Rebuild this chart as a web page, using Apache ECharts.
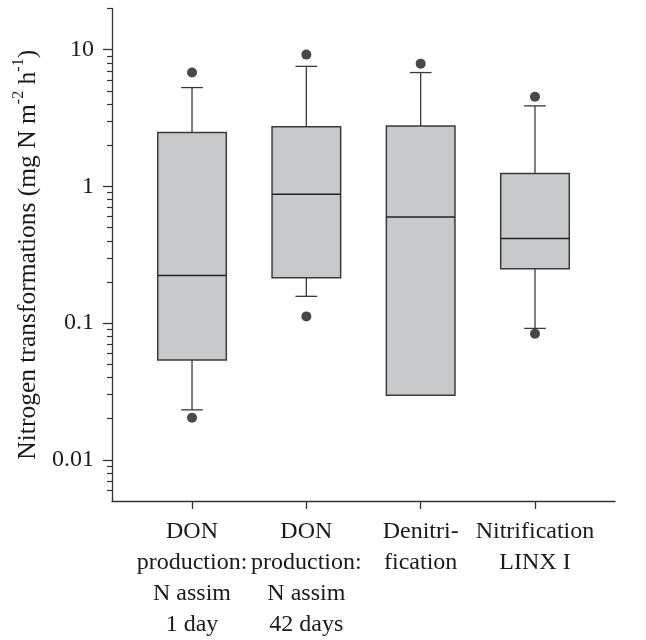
<!DOCTYPE html>
<html>
<head>
<meta charset="utf-8">
<script src="https://cdn.jsdelivr.net/npm/echarts@6/dist/echarts.min.js"></script>
<style>html,body{margin:0;padding:0;background:#fff}#c{width:646px;height:640px}</style>
</head>
<body>
<div id="c"></div>
<script>
const categories = ['DON\nproduction:\nN assim\n1 day', 'DON\nproduction:\nN assim\n42 days', 'Denitri-\nfication', 'Nitrification\nLINX I'];
const positions = [1, 2, 3, 4];
const whiskerLow = [0.0232, 0.157, null, 0.0915];
const q1 = [0.0537, 0.215, 0.0297, 0.25];
const median = [0.223, 0.877, 0.597, 0.415];
const q3 = [2.48, 2.73, 2.77, 1.24];
const whiskerHigh = [5.28, 7.55, 6.8, 3.88];
const outlierX = [1, 1, 2, 2, 3, 4, 4];
const outlierY = [6.8, 0.0203, 9.2, 0.112, 7.9, 4.52, 0.0837];
const majorTicks = [0.01, 0.1, 1, 10];
const minorTicks = [0.006, 0.007, 0.008, 0.009, 0.02, 0.03, 0.04, 0.05, 0.06, 0.07, 0.08, 0.09,
  0.2, 0.3, 0.4, 0.5, 0.6, 0.7, 0.8, 0.9, 2, 3, 4, 5, 6, 7, 8, 9, 20];

const FONT = "'Liberation Serif', 'Times New Roman', serif";
const boxData = positions.map((p, i) => [p, whiskerLow[i], q1[i], median[i], q3[i], whiskerHigh[i]]);
const outliers = outlierX.map((x, i) => [x, outlierY[i]]);

const BOX_HALF = 0.3, CAP_HALF = 0.095;
function renderBox(params, api) {
  const x = api.value(0);
  const lo = api.value(1), a = api.value(2), m = api.value(3), b = api.value(4), hi = api.value(5);
  const tl = api.coord([x - BOX_HALF, b]);
  const br = api.coord([x + BOX_HALF, a]);
  const children = [];
  const lineStyle = {stroke: '#3a3a3a', lineWidth: 1.3, fill: null};
  const pTop = api.coord([x, hi]);
  children.push({type: 'line', shape: {x1: pTop[0], y1: pTop[1], x2: pTop[0], y2: tl[1]}, style: lineStyle});
  const capL = api.coord([x - CAP_HALF, hi]), capR = api.coord([x + CAP_HALF, hi]);
  children.push({type: 'line', shape: {x1: capL[0], y1: capL[1], x2: capR[0], y2: capR[1]}, style: lineStyle});
  if (lo != null && !isNaN(lo)) {
    const pLo = api.coord([x, lo]);
    children.push({type: 'line', shape: {x1: pLo[0], y1: br[1], x2: pLo[0], y2: pLo[1]}, style: lineStyle});
    const cL = api.coord([x - CAP_HALF, lo]), cR = api.coord([x + CAP_HALF, lo]);
    children.push({type: 'line', shape: {x1: cL[0], y1: cL[1], x2: cR[0], y2: cR[1]}, style: lineStyle});
  }
  children.push({type: 'rect', shape: {x: tl[0], y: tl[1], width: br[0] - tl[0], height: br[1] - tl[1]},
    style: {fill: '#c8c9cb', stroke: '#3a3a3a', lineWidth: 1.5}});
  const mL = api.coord([x - BOX_HALF, m]), mR = api.coord([x + BOX_HALF, m]);
  children.push({type: 'line', shape: {x1: mL[0], y1: mL[1], x2: mR[0], y2: mR[1]}, style: {stroke: '#222', lineWidth: 1.5}});
  return {type: 'group', children};
}

const chart = echarts.init(document.getElementById('c'), null, {renderer: 'canvas'});
chart.setOption({
  animation: false,
  backgroundColor: '#fff',
  grid: {left: 112, right: 31, top: 8.5, bottom: 138},
  xAxis: {
    type: 'value', min: 0.3, max: 4.7,
    splitLine: {show: false},
    axisLine: {lineStyle: {color: '#333', width: 1.3}},
    axisTick: {customValues: positions, length: 8, lineStyle: {color: '#333', width: 1.3}},
    axisLabel: {
      customValues: positions, margin: 15, color: '#1a1a1a', fontFamily: FONT, fontSize: 24, lineHeight: 31,
      formatter: v => categories[Math.round(v) - 1] || ''
    }
  },
  yAxis: [{
    type: 'log', logBase: 10, min: 0.005, max: 20,
    splitLine: {show: false},
    axisLine: {show: true, lineStyle: {color: '#333', width: 1.3}},
    axisTick: {customValues: majorTicks, length: 9, lineStyle: {color: '#333', width: 1.3}},
    axisLabel: {
      customValues: majorTicks, margin: 18, color: '#1a1a1a', fontFamily: FONT, fontSize: 24,
      formatter: v => { const e = Math.round(Math.log10(v)); return e >= 0 ? String(Math.pow(10, e)) : Math.pow(10, e).toFixed(-e); }
    },
    name: '{a|Nitrogen transformations (mg N m}{s|-2}{a| h}{s|-1}{a|)}',
    nameLocation: 'middle', nameGap: 65, nameRotate: 90,
    nameTextStyle: {
      rich: {
        a: {fontFamily: FONT, fontSize: 25.5, color: '#1a1a1a', lineHeight: 30, verticalAlign: 'bottom'},
        s: {fontFamily: FONT, fontSize: 16, color: '#1a1a1a', lineHeight: 30, verticalAlign: 'top'}
      }
    }
  }, {
    type: 'log', logBase: 10, min: 0.005, max: 20, position: 'left',
    splitLine: {show: false},
    axisLine: {show: false},
    axisTick: {show: true, customValues: minorTicks, length: 5, lineStyle: {color: '#333', width: 1.2}},
    axisLabel: {show: false}
  }],
  series: [{
    type: 'custom', xAxisIndex: 0, yAxisIndex: 0,
    encode: {x: 0, y: [1, 2, 3, 4, 5]},
    data: boxData, renderItem: renderBox, z: 2
  }, {
    type: 'scatter', xAxisIndex: 0, yAxisIndex: 0,
    data: outliers, symbol: 'circle', symbolSize: 10,
    itemStyle: {color: '#1a1a1a'}, z: 3
  }]
});
</script>
</body>
</html>
